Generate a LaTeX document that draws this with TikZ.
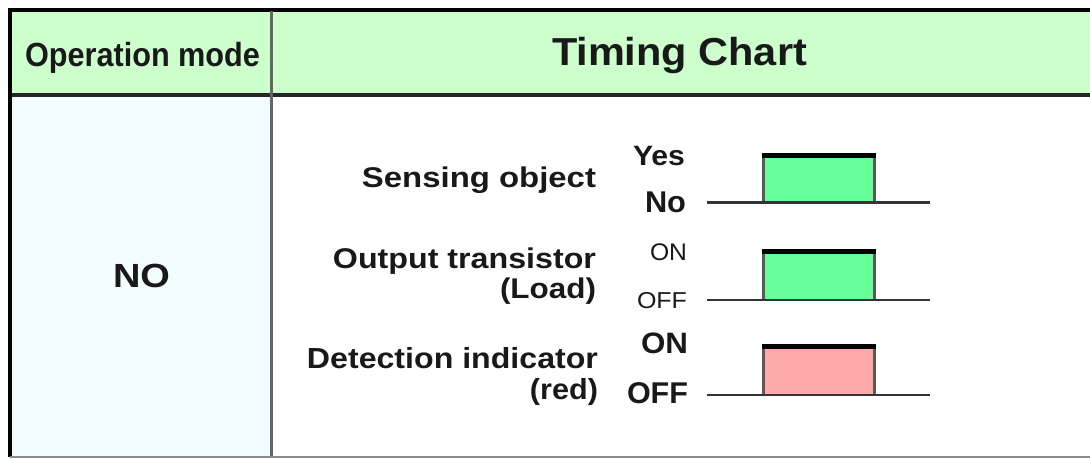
\documentclass[tikz,border=0pt]{standalone}
\usepackage{fontspec}
\usepackage{graphicx}
\setmainfont{Liberation Sans}
\definecolor{hdr}{HTML}{CCFFCC}
\definecolor{leftcell}{HTML}{F3FDFF}
\definecolor{pulsegreen}{HTML}{66FF99}
\definecolor{pulsered}{HTML}{FFAAAA}
\newcommand{\tx}[3]{\resizebox{#1pt}{\height}{\fontsize{#2}{#2}\selectfont\bfseries #3}}
\newcommand{\txr}[3]{\resizebox{#1pt}{\height}{\fontsize{#2}{#2}\selectfont #3}}
\tikzset{
  lbl/.style={inner sep=0pt, outer sep=0pt, anchor=base east, text=black!90},
  ctr/.style={inner sep=0pt, outer sep=0pt, anchor=base, text=black!90},
  base/.style={draw=black!80, line width=2.5pt},
  side/.style={draw=black!65, line width=3pt},
  topbar/.style={draw=black, line width=5pt},
}
\begin{document}
\begin{tikzpicture}[x=1pt,y=-1pt]
\useasboundingbox (0,0) rectangle (1090,458);
% backgrounds
\fill[hdr] (11,11) rectangle (1090,94);
\fill[leftcell] (11,96) rectangle (271,456);
\fill[white] (271,96) rectangle (1090,456);
% grid lines
\draw[black, line width=4pt] (7.5,9.5) -- (1090,9.5);
\draw[black!85, line width=4pt] (9.5,95) -- (1090,95);
\draw[black, line width=4pt] (9.5,7.5) -- (9.5,457);
\draw[black!60, line width=3pt] (271,11) -- (271,457);
\draw[black!45, line width=2pt] (9.5,456.5) -- (1090,456.5);
% header texts
\node[ctr] (opmode) at (142.5,66) {\tx{235}{33.5}{Operation mode}};
\node[ctr] (timing) at (679.5,65) {\tx{255}{39}{Timing Chart}};
\node[ctr] (no) at (141.5,287) {\tx{57}{33.5}{NO}};
% signal labels
\node[lbl] (sens) at (596,187) {\tx{234}{28.5}{Sensing object}};
\node[lbl] (outt) at (596,268.5) {\tx{263}{28.5}{Output transistor}};
\node[lbl] (load) at (596,298) {\tx{96}{28.5}{(Load)}};
\node[lbl] (det) at (598,368) {\tx{291}{29}{Detection indicator}};
\node[lbl] (red) at (598,399) {\tx{68}{29}{(red)}};
% level labels
\node[lbl] (yes) at (685,165) {\tx{52}{28}{Yes}};
\node[lbl] (nolv) at (686,212) {\tx{41}{30}{No}};
\node[lbl] (on1) at (687,260) {\txr{37}{24}{ON}};
\node[lbl] (off1) at (687,308) {\txr{50}{23}{OFF}};
\node[lbl] (on2) at (688,353) {\tx{47}{29.5}{ON}};
\node[lbl] (off2) at (688,403) {\tx{61}{30}{OFF}};
% waveform 1
\fill[pulsegreen] (763,156) rectangle (874,202);
\draw[side] (763,156) -- (763,202);
\draw[side] (874,156) -- (874,202);
\draw[topbar] (761.5,155.5) -- (875.5,155.5);
\draw[base] (707,202.5) -- (930,202.5);
% waveform 2
\fill[pulsegreen] (763,252) rectangle (874,300);
\draw[side] (763,252) -- (763,300);
\draw[side] (874,252) -- (874,300);
\draw[topbar] (761.5,251.5) -- (875.5,251.5);
\draw[base] (707,300) -- (930,300);
% waveform 3
\fill[pulsered] (763,347) rectangle (874,395);
\draw[side] (763,347) -- (763,395);
\draw[side] (874,347) -- (874,395);
\draw[topbar] (761.5,346) -- (875.5,346);
\draw[base] (707,395) -- (930,395);
\end{tikzpicture}
\end{document}
